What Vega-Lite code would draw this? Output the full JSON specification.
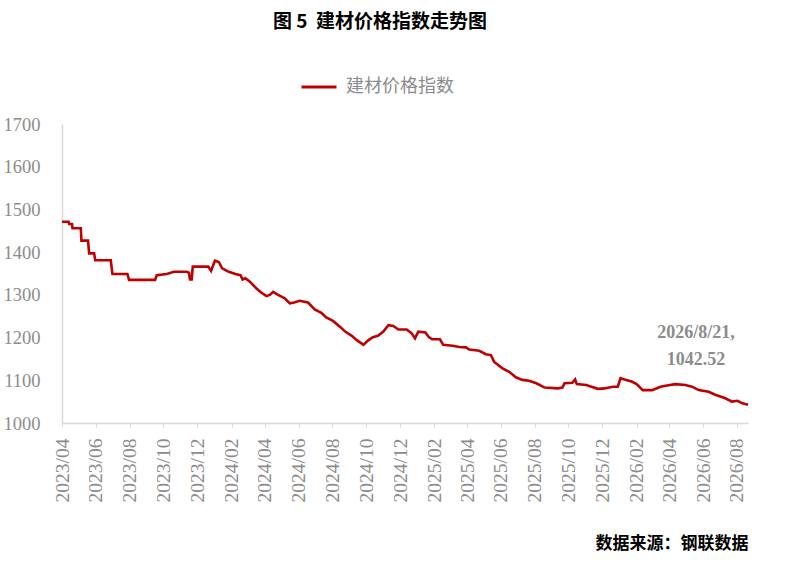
{
  "$schema": "https://vega.github.io/schema/vega-lite/v6.json",
  "width": 686,
  "height": 299,
  "autosize": {"type": "none"},
  "padding": {"left": 62, "top": 124, "right": 38, "bottom": 156},
  "background": "white",
  "title": {
    "text": "图 5\u00a0\u00a0建材价格指数走势图",
    "font": "Noto Sans CJK SC",
    "fontSize": 19,
    "fontWeight": "bold",
    "color": "#000000",
    "anchor": "middle",
    "dx": -25,
    "offset": 36
  },
  "config": {
    "view": {"stroke": null},
    "axis": {"grid": false}
  },
  "datasets": {
    "series": [
      {"date": "2023-04-01", "value": 1471, "name": "建材价格指数"},
      {"date": "2023-04-13", "value": 1471, "name": "建材价格指数"},
      {"date": "2023-04-14", "value": 1466, "name": "建材价格指数"},
      {"date": "2023-04-19", "value": 1466, "name": "建材价格指数"},
      {"date": "2023-04-20", "value": 1456, "name": "建材价格指数"},
      {"date": "2023-05-05", "value": 1456, "name": "建材价格指数"},
      {"date": "2023-05-06", "value": 1427, "name": "建材价格指数"},
      {"date": "2023-05-18", "value": 1427, "name": "建材价格指数"},
      {"date": "2023-05-20", "value": 1397, "name": "建材价格指数"},
      {"date": "2023-05-29", "value": 1397, "name": "建材价格指数"},
      {"date": "2023-05-31", "value": 1381, "name": "建材价格指数"},
      {"date": "2023-06-28", "value": 1381, "name": "建材价格指数"},
      {"date": "2023-07-01", "value": 1349, "name": "建材价格指数"},
      {"date": "2023-07-28", "value": 1349, "name": "建材价格指数"},
      {"date": "2023-07-31", "value": 1335, "name": "建材价格指数"},
      {"date": "2023-09-16", "value": 1335, "name": "建材价格指数"},
      {"date": "2023-09-19", "value": 1346, "name": "建材价格指数"},
      {"date": "2023-10-07", "value": 1349, "name": "建材价格指数"},
      {"date": "2023-10-20", "value": 1354, "name": "建材价格指数"},
      {"date": "2023-11-12", "value": 1354, "name": "建材价格指数"},
      {"date": "2023-11-16", "value": 1352, "name": "建材价格指数"},
      {"date": "2023-11-18", "value": 1336, "name": "建材价格指数"},
      {"date": "2023-11-21", "value": 1336, "name": "建材价格指数"},
      {"date": "2023-11-23", "value": 1366, "name": "建材价格指数"},
      {"date": "2023-12-21", "value": 1366, "name": "建材价格指数"},
      {"date": "2023-12-26", "value": 1356, "name": "建材价格指数"},
      {"date": "2024-01-02", "value": 1380, "name": "建材价格指数"},
      {"date": "2024-01-09", "value": 1377, "name": "建材价格指数"},
      {"date": "2024-01-15", "value": 1362, "name": "建材价格指数"},
      {"date": "2024-01-27", "value": 1354, "name": "建材价格指数"},
      {"date": "2024-02-08", "value": 1349, "name": "建材价格指数"},
      {"date": "2024-02-17", "value": 1346, "name": "建材价格指数"},
      {"date": "2024-02-21", "value": 1336, "name": "建材价格指数"},
      {"date": "2024-02-26", "value": 1339, "name": "建材价格指数"},
      {"date": "2024-03-05", "value": 1331, "name": "建材价格指数"},
      {"date": "2024-03-17", "value": 1315, "name": "建材价格指数"},
      {"date": "2024-03-26", "value": 1305, "name": "建材价格指数"},
      {"date": "2024-04-04", "value": 1297, "name": "建材价格指数"},
      {"date": "2024-04-10", "value": 1300, "name": "建材价格指数"},
      {"date": "2024-04-16", "value": 1307, "name": "建材价格指数"},
      {"date": "2024-04-25", "value": 1300, "name": "建材价格指数"},
      {"date": "2024-05-07", "value": 1292, "name": "建材价格指数"},
      {"date": "2024-05-16", "value": 1280, "name": "建材价格指数"},
      {"date": "2024-05-24", "value": 1282, "name": "建材价格指数"},
      {"date": "2024-06-03", "value": 1286, "name": "建材价格指数"},
      {"date": "2024-06-18", "value": 1282, "name": "建材价格指数"},
      {"date": "2024-06-30", "value": 1266, "name": "建材价格指数"},
      {"date": "2024-07-12", "value": 1258, "name": "建材价格指数"},
      {"date": "2024-07-21", "value": 1247, "name": "建材价格指数"},
      {"date": "2024-08-02", "value": 1239, "name": "建材价格指数"},
      {"date": "2024-08-15", "value": 1225, "name": "建材价格指数"},
      {"date": "2024-08-24", "value": 1214, "name": "建材价格指数"},
      {"date": "2024-09-05", "value": 1204, "name": "建材价格指数"},
      {"date": "2024-09-14", "value": 1194, "name": "建材价格指数"},
      {"date": "2024-09-26", "value": 1183, "name": "建材价格指数"},
      {"date": "2024-10-04", "value": 1193, "name": "建材价格指数"},
      {"date": "2024-10-13", "value": 1201, "name": "建材价格指数"},
      {"date": "2024-10-22", "value": 1204, "name": "建材价格指数"},
      {"date": "2024-11-01", "value": 1214, "name": "建材价格指数"},
      {"date": "2024-11-10", "value": 1229, "name": "建材价格指数"},
      {"date": "2024-11-19", "value": 1227, "name": "建材价格指数"},
      {"date": "2024-11-28", "value": 1219, "name": "建材价格指数"},
      {"date": "2024-12-13", "value": 1219, "name": "建材价格指数"},
      {"date": "2024-12-22", "value": 1210, "name": "建材价格指数"},
      {"date": "2024-12-28", "value": 1198, "name": "建材价格指数"},
      {"date": "2025-01-03", "value": 1214, "name": "建材价格指数"},
      {"date": "2025-01-16", "value": 1212, "name": "建材价格指数"},
      {"date": "2025-01-22", "value": 1201, "name": "建材价格指数"},
      {"date": "2025-01-28", "value": 1196, "name": "建材价格指数"},
      {"date": "2025-02-11", "value": 1196, "name": "建材价格指数"},
      {"date": "2025-02-17", "value": 1183, "name": "建材价格指数"},
      {"date": "2025-03-06", "value": 1181, "name": "建材价格指数"},
      {"date": "2025-03-18", "value": 1178, "name": "建材价格指数"},
      {"date": "2025-03-30", "value": 1177, "name": "建材价格指数"},
      {"date": "2025-04-05", "value": 1172, "name": "建材价格指数"},
      {"date": "2025-04-23", "value": 1169, "name": "建材价格指数"},
      {"date": "2025-05-05", "value": 1161, "name": "建材价格指数"},
      {"date": "2025-05-14", "value": 1159, "name": "建材价格指数"},
      {"date": "2025-05-20", "value": 1143, "name": "建材价格指数"},
      {"date": "2025-06-04", "value": 1128, "name": "建材价格指数"},
      {"date": "2025-06-16", "value": 1120, "name": "建材价格指数"},
      {"date": "2025-06-28", "value": 1107, "name": "建材价格指数"},
      {"date": "2025-07-10", "value": 1101, "name": "建材价格指数"},
      {"date": "2025-07-22", "value": 1099, "name": "建材价格指数"},
      {"date": "2025-08-04", "value": 1093, "name": "建材价格指数"},
      {"date": "2025-08-19", "value": 1083, "name": "建材价格指数"},
      {"date": "2025-09-12", "value": 1081, "name": "建材价格指数"},
      {"date": "2025-09-20", "value": 1083, "name": "建材价格指数"},
      {"date": "2025-09-24", "value": 1093, "name": "建材价格指数"},
      {"date": "2025-10-08", "value": 1094, "name": "建材价格指数"},
      {"date": "2025-10-13", "value": 1102, "name": "建材价格指数"},
      {"date": "2025-10-16", "value": 1091, "name": "建材价格指数"},
      {"date": "2025-11-02", "value": 1089, "name": "建材价格指数"},
      {"date": "2025-11-23", "value": 1080, "name": "建材价格指数"},
      {"date": "2025-12-05", "value": 1081, "name": "建材价格指数"},
      {"date": "2025-12-20", "value": 1085, "name": "建材价格指数"},
      {"date": "2025-12-29", "value": 1085, "name": "建材价格指数"},
      {"date": "2026-01-03", "value": 1105, "name": "建材价格指数"},
      {"date": "2026-01-10", "value": 1102, "name": "建材价格指数"},
      {"date": "2026-01-23", "value": 1097, "name": "建材价格指数"},
      {"date": "2026-02-01", "value": 1091, "name": "建材价格指数"},
      {"date": "2026-02-12", "value": 1077, "name": "建材价格指数"},
      {"date": "2026-03-01", "value": 1077, "name": "建材价格指数"},
      {"date": "2026-03-16", "value": 1085, "name": "建材价格指数"},
      {"date": "2026-03-25", "value": 1087, "name": "建材价格指数"},
      {"date": "2026-04-12", "value": 1091, "name": "建材价格指数"},
      {"date": "2026-04-30", "value": 1089, "name": "建材价格指数"},
      {"date": "2026-05-12", "value": 1085, "name": "建材价格指数"},
      {"date": "2026-05-24", "value": 1077, "name": "建材价格指数"},
      {"date": "2026-06-11", "value": 1073, "name": "建材价格指数"},
      {"date": "2026-06-23", "value": 1066, "name": "建材价格指数"},
      {"date": "2026-07-11", "value": 1058, "name": "建材价格指数"},
      {"date": "2026-07-23", "value": 1050, "name": "建材价格指数"},
      {"date": "2026-08-02", "value": 1052, "name": "建材价格指数"},
      {"date": "2026-08-11", "value": 1046, "name": "建材价格指数"},
      {"date": "2026-08-21", "value": 1042.52, "name": "建材价格指数"}
    ],
    "note": [
      {"date": "2026-08-21", "value": 1042.52, "label": "2026/8/21,\n1042.52"}
    ]
  },
  "encoding": {
    "x": {
      "field": "date",
      "type": "temporal",
      "scale": {"type": "utc", "domain": ["2023-04-01", "2026-08-21"]},
      "axis": {
        "title": "数据来源：钢联数据",
        "titleFont": "Noto Sans CJK SC",
        "titleFontSize": 17,
        "titleFontWeight": "bold",
        "titleColor": "#000000",
        "titleAnchor": "end",
        "titlePadding": 34,
        "values": ["2023-04-01", "2023-06-01", "2023-08-01", "2023-10-01", "2023-12-01", "2024-02-01", "2024-04-01", "2024-06-01", "2024-08-01", "2024-10-01", "2024-12-01", "2025-02-01", "2025-04-01", "2025-06-01", "2025-08-01", "2025-10-01", "2025-12-01", "2026-02-01", "2026-04-01", "2026-06-01", "2026-08-01"],
        "labelExpr": "utcFormat(datum.value, '%Y/%m')",
        "labelAngle": -90,
        "labelFont": "Liberation Serif",
        "labelFontSize": 19.5,
        "labelColor": "#8c8c8c",
        "labelPadding": 11,
        "labelOverlap": false,
        "labelFlush": false,
        "tickSize": 4,
        "tickColor": "#d9d9d9",
        "domainColor": "#d9d9d9",
        "domainWidth": 1.5
      }
    },
    "y": {
      "field": "value",
      "type": "quantitative",
      "scale": {"domain": [1000, 1700], "zero": false, "nice": false},
      "axis": {
        "title": null,
        "values": [1000, 1100, 1200, 1300, 1400, 1500, 1600, 1700],
        "format": "d",
        "ticks": false,
        "labelFont": "Liberation Serif",
        "labelFontSize": 18.5,
        "labelColor": "#8c8c8c",
        "labelPadding": 22,
        "domainColor": "#d9d9d9",
        "domainWidth": 1.5
      }
    }
  },
  "layer": [
    {
      "data": {"name": "series"},
      "mark": {"type": "line", "strokeWidth": 2.6, "interpolate": "linear"},
      "encoding": {
        "color": {
          "field": "name",
          "type": "nominal",
          "scale": {"range": ["#c00000"]},
          "legend": {
            "title": null,
            "orient": "none",
            "legendX": 238,
            "legendY": -56,
            "padding": 0,
            "symbolType": "stroke",
            "symbolSize": 1225,
            "symbolStrokeWidth": 3,
            "labelFont": "Noto Sans CJK SC",
            "labelFontSize": 18,
            "labelColor": "#8c8c8c",
            "labelOffset": 8
          }
        }
      }
    },
    {
      "data": {"name": "note"},
      "mark": {
        "type": "text",
        "align": "center",
        "baseline": "middle",
        "lineBreak": "\n",
        "lineHeight": 27,
        "font": "Liberation Serif",
        "fontSize": 18,
        "fontWeight": "bold",
        "color": "#8c8c8c",
        "dx": -52,
        "dy": -72
      },
      "encoding": {
        "text": {"field": "label"}
      }
    }
  ]
}
